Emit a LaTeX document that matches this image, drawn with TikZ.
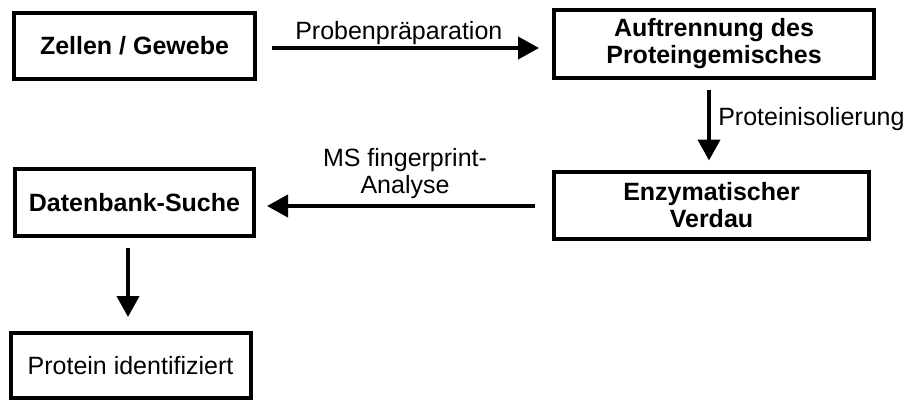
\documentclass[tikz,border=0pt]{standalone}
\usepackage{fontspec}
\setmainfont{Liberation Sans}
\usetikzlibrary{arrows.meta,calc}
\begin{document}
\begin{tikzpicture}[x=0.75pt,y=-0.75pt,
  txt/.style={font=\fontsize{18.75pt}{20.25pt}\selectfont},
  box/.style={draw, line width=3pt, inner sep=0pt, align=center, txt},
  boldbox/.style={box, font=\fontsize{18.75pt}{20.25pt}\selectfont\bfseries},
  lbl/.style={txt, inner sep=0pt},
  arr/.style={line width=3pt, -{Triangle[length=15.75pt,width=16.5pt]}}]
\useasboundingbox (0,0) rectangle (909,401);

% process steps
\node[boldbox, minimum width=241*0.75pt, minimum height=66*0.75pt] (b1) at (134.5,46) {Zellen / Gewebe};
\node[boldbox, minimum width=320*0.75pt, minimum height=68*0.75pt] (b2) at (714,44) {Auftrennung des\\Proteingemisches};
\node[boldbox, minimum width=315*0.75pt, minimum height=67*0.75pt] (b3) at (711.5,205) {Enzymatischer\\Verdau};
\node[boldbox, minimum width=239*0.75pt, minimum height=67*0.75pt] (b4) at (134.5,202.5) {Datenbank-Suche};
\node[box, minimum width=240*0.75pt, minimum height=65*0.75pt] (b5) at (130.5,365.5) {Protein identifiziert};

% connectors
\draw[arr] ($(b1.east)+(15,2)$) -- ($(b1.east -| b2.west)+(-13,2)$);
\draw[arr] ($(b2.south)+(-5,10)$) -- ($(b2.south |- b3.north)+(-5,-9)$);
\draw[arr] ($(b3.west)+(-17,1)$) -- ($(b3.west -| b4.east)+(11,1)$);
\draw[arr] ($(b4.south)+(-6.5,10)$) -- ($(b4.south |- b5.north)+(-6.5,-14)$);

% connector labels
\node[lbl, anchor=base west] (l1) at (295,39) {Probenpräparation};
\node[lbl, anchor=base west] (l2) at (718,125) {Proteinisolierung};
\node[lbl, align=center] (l3) at (405,174) {MS fingerprint-\\Analyse};
\end{tikzpicture}
\end{document}
